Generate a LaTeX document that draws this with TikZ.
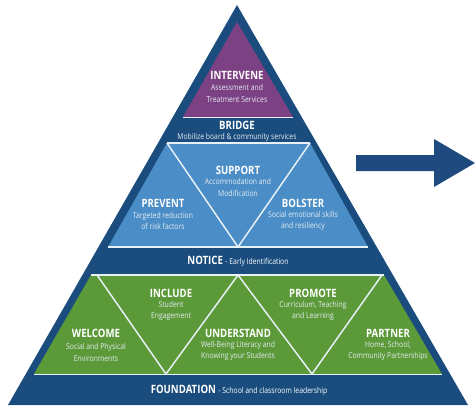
\documentclass[tikz,border=0pt]{standalone}
\usepackage{fontspec}
\setmainfont{Open Sans}[FakeStretch=0.84]
\definecolor{navy}{HTML}{1A4D7E}
\definecolor{arrowblue}{HTML}{1F4A80}
\definecolor{purp}{HTML}{7C4183}
\definecolor{lblue}{HTML}{4B8EC7}
\definecolor{grn}{HTML}{5C9A39}
\definecolor{sub}{HTML}{E4ECF2}
\tikzset{
  head/.style={text=white,font=\bfseries\fontsize{8.6}{9}\selectfont,inner sep=0pt,anchor=center},
  subt/.style={text=sub,font=\fontsize{6.1}{8.4}\selectfont,inner sep=0pt,align=center,anchor=center},
  sep/.style={draw=white!88!lblue,line width=1.1pt},
  band/.style={text=white,font=\fontsize{8.6}{9}\selectfont,inner sep=0pt,anchor=center}
}
\begin{document}
\begin{tikzpicture}[x=0.75pt,y=-0.75pt]
\useasboundingbox (0,0) rectangle (475,408);
% outer triangle
\fill[navy] (237,5) -- (468,405) -- (8,405) -- cycle;
% purple top
\fill[purp] (237,22) -- (293,117) -- (183,117) -- cycle;
\draw[sep] (183,117.5) -- (293,117.5);
% middle trapezoid
\fill[lblue] (167,143) -- (310,143) -- (368,247) -- (108,247) -- cycle;
\draw[sep] (167,143) -- (310,143);
\draw[sep] (108,247) -- (368,247);
\draw[sep] (167,143) -- (238,247) -- (310,143);
% green trapezoid
\fill[grn] (91,275) -- (384,275) -- (442,374) -- (34,374) -- cycle;
\draw[sep] (91,275) -- (384,275);
\draw[sep] (34,374.5) -- (442,374.5);
\draw[sep] (97,275) -- (166,374) -- (238,275) -- (312,374) -- (382,275);
% arrow
\fill[arrowblue] (356,155) -- (434,155) -- (434,139) -- (475,163) -- (434,187) -- (434,171) -- (356,171) -- cycle;
% texts
\node[head] (intervene) at (237,75) {INTERVENE};
\node[subt] (interveneS) at (237,93.5) {Assessment and\\Treatment Services};
\node[head] (bridge) at (237,125) {BRIDGE};
\node[subt] (bridgeS) at (237,137) {Mobilize board \& community services};
\node[head] (support) at (238,170) {SUPPORT};
\node[subt] (supportS) at (238,187.5) {Accommodation and\\Modification};
\node[head] (prevent) at (163,203) {PREVENT};
\node[subt] (preventS) at (163,221) {Targeted reduction\\of risk factors};
\node[head] (bolster) at (303,203) {BOLSTER};
\node[subt] (bolsterS) at (303,221) {Social emotional skills\\and resiliency};
\node[band] (notice) at (238,261) {\textbf{NOTICE} \fontsize{6.1}{8}\selectfont - Early Identification};
\node[head] (include) at (171,293) {INCLUDE};
\node[subt] (includeS) at (171,310.5) {Student\\Engagement};
\node[head] (promote) at (313,293) {PROMOTE};
\node[subt] (promoteS) at (313,310.5) {Curriculum, Teaching\\and Learning};
\node[head] (welcome) at (96,333) {WELCOME};
\node[subt] (welcomeS) at (96,352.5) {Social and Physical\\Environments};
\node[head] (understand) at (238,333) {UNDERSTAND};
\node[subt] (understandS) at (238,351) {Well-Being Literacy and\\Knowing your Students};
\node[head] (partner) at (388,333) {PARTNER};
\node[subt] (partnerS) at (388,351) {Home, School,\\Community Partnerships};
\node[band] (foundation) at (239,390) {\textbf{FOUNDATION} \fontsize{6.1}{8}\selectfont - School and classroom leadership};
\end{tikzpicture}
\end{document}
